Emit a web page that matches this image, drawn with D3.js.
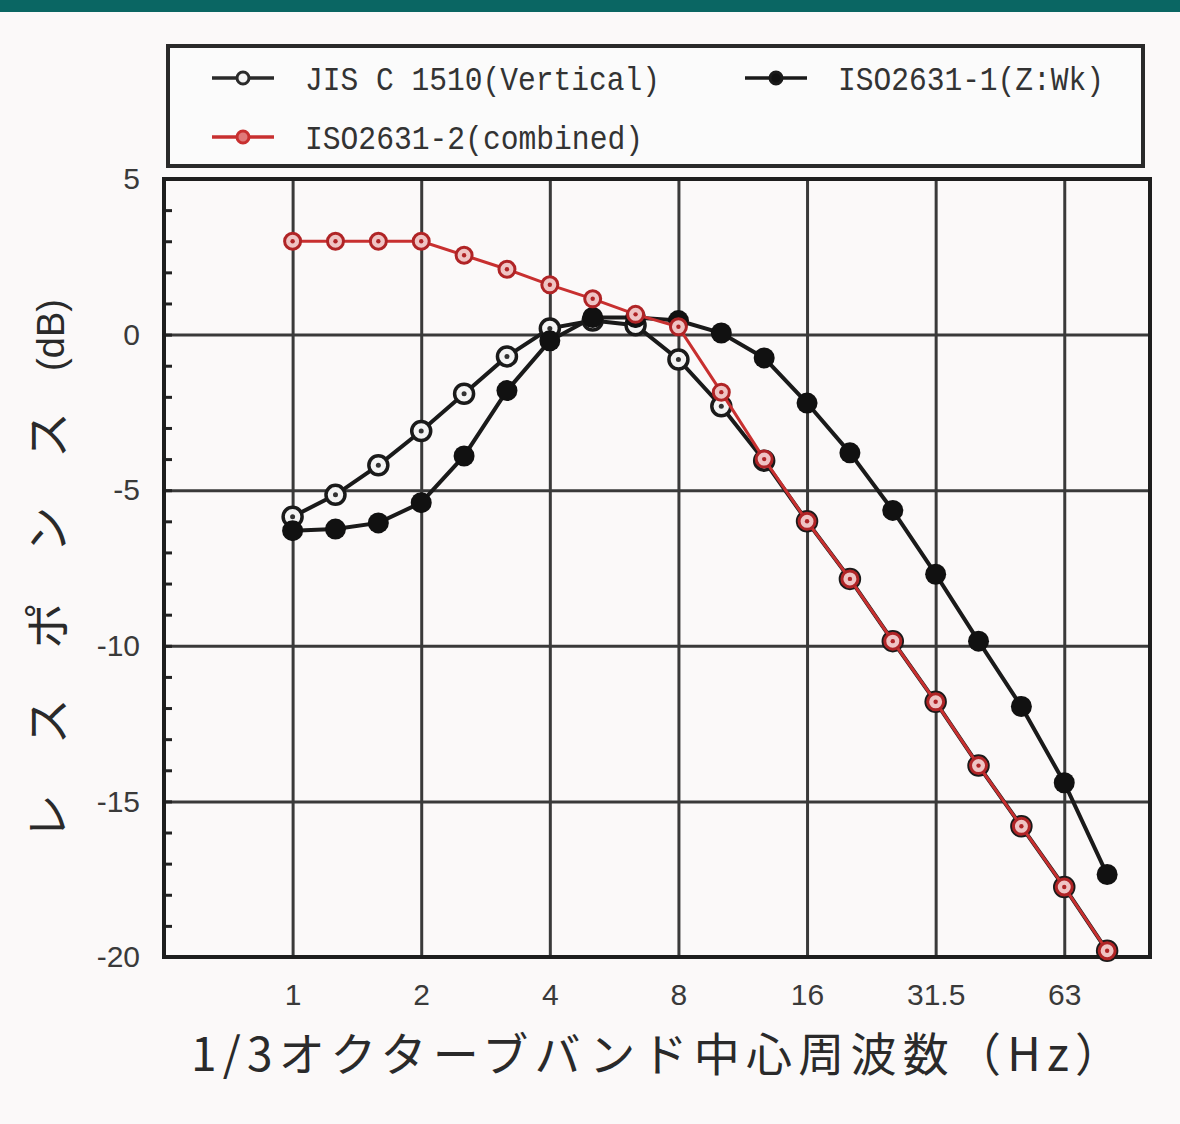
<!DOCTYPE html>
<html>
<head>
<meta charset="utf-8">
<script src="https://cdn.jsdelivr.net/npm/d3@7"></script>
<style>
  html, body { margin: 0; padding: 0; background: #fbf9f9; }
  svg { display: block; }
</style>
</head>
<body>
<svg id="chart"></svg>
<script>
// 1/3 octave band centres (Hz), drawn on an evenly spaced band index
var bands = ["1","1.25","1.6","2","2.5","3.15","4","5","6.3","8","10","12.5","16","20","25","31.5","40","50","63","80"];
var xTickBands  = [0, 3, 6, 9, 12, 15, 18];
var xTickLabels = ["1", "2", "4", "8", "16", "31.5", "63"];
var yTicks      = [5, 0, -5, -10, -15, -20];
var yTickLabels = ["5", "0", "-5", "-10", "-15", "-20"];

// responses (dB)
var jisVertical = [-5.85,-5.15,-4.2,-3.1,-1.9,-0.7,0.2,0.45,0.3,-0.8,-2.3,-4.05,-6.0,-7.85,-9.85,-11.8,-13.85,-15.8,-17.75,-19.8];
var iso1Wk      = [-6.3,-6.25,-6.05,-5.4,-3.9,-1.8,-0.2,0.55,0.55,0.45,0.05,-0.75,-2.2,-3.8,-5.65,-7.7,-9.85,-11.95,-14.4,-17.35];
var iso2Comb    = [3.0,3.0,3.0,3.0,2.55,2.1,1.6,1.15,0.65,0.25,-1.85,-4.0,-6.0,-7.85,-9.85,-11.8,-13.85,-15.8,-17.75,-19.8];

draw();

function draw(){
  var W = 1180, H = 1124;
  var plotL = 164, plotR = 1150, plotT = 179, plotB = 957;

  var svg = d3.select("#chart").attr("width", W).attr("height", H);

  svg.append("rect").attr("x",0).attr("y",0).attr("width",W).attr("height",H).attr("fill","#fbf9f9");
  svg.append("rect").attr("x",0).attr("y",0).attr("width",W).attr("height",12).attr("fill","#0a6663");

  var x = d3.scaleLinear().domain([-3, 20]).range([plotL, plotR]);
  var y = d3.scaleLinear().domain([-20, 5]).range([plotB, plotT]);

  // grid
  svg.append("g")
     .attr("transform","translate(0,"+plotB+")")
     .call(d3.axisBottom(x).tickValues(xTickBands).tickSize(-(plotB-plotT)).tickFormat(""))
     .call(function(g){
       g.select(".domain").remove();
       g.selectAll("line").attr("stroke","#3a3a3a").attr("stroke-width",3);
     });
  svg.append("g")
     .attr("transform","translate("+plotL+",0)")
     .call(d3.axisLeft(y).tickValues([0,-5,-10,-15]).tickSize(-(plotR-plotL)).tickFormat(""))
     .call(function(g){
       g.select(".domain").remove();
       g.selectAll("line").attr("stroke","#3a3a3a").attr("stroke-width",3);
     });

  // minor ticks on the left axis
  svg.append("g")
     .attr("transform","translate("+plotL+",0)")
     .call(d3.axisLeft(y).tickValues(d3.range(-20, 6)).tickSize(-8).tickFormat(""))
     .call(function(g){
       g.select(".domain").remove();
       g.selectAll("line").attr("stroke","#222").attr("stroke-width",3);
     });

  // frame
  svg.append("rect")
     .attr("x",plotL).attr("y",plotT).attr("width",plotR-plotL).attr("height",plotB-plotT)
     .attr("fill","none").attr("stroke","#1e1e1e").attr("stroke-width",4);

  // tick labels
  svg.append("g")
     .attr("transform","translate(0,"+plotB+")")
     .call(d3.axisBottom(x).tickValues(xTickBands).tickSize(0).tickPadding(27)
             .tickFormat(function(d,i){ return xTickLabels[i]; }))
     .call(function(g){
       g.select(".domain").remove();
       g.selectAll("text").attr("font-family","Liberation Sans, Arial, sans-serif")
        .attr("font-size",30).attr("fill","#3a3a3a");
     });
  svg.append("g")
     .attr("transform","translate("+plotL+",0)")
     .call(d3.axisLeft(y).tickValues(yTicks).tickSize(0).tickPadding(24)
             .tickFormat(function(d,i){ return yTickLabels[i]; }))
     .call(function(g){
       g.select(".domain").remove();
       g.selectAll("text").attr("font-family","Liberation Sans, Arial, sans-serif")
        .attr("font-size",30).attr("fill","#3a3a3a");
     });

  // series
  var line = d3.line().x(function(d,i){ return x(i); }).y(function(d){ return y(d); });

  svg.append("path").datum(jisVertical).attr("d",line)
     .attr("fill","none").attr("stroke","#1a1a1a").attr("stroke-width",4);
  svg.append("path").datum(iso1Wk).attr("d",line)
     .attr("fill","none").attr("stroke","#1a1a1a").attr("stroke-width",4);

  svg.append("g").selectAll("circle").data(jisVertical).enter().append("circle")
     .attr("cx",function(d,i){ return x(i); }).attr("cy",function(d){ return y(d); })
     .attr("r",9.5).attr("fill","#f4f4f4").attr("stroke","#1a1a1a").attr("stroke-width",3.5);
  svg.append("g").selectAll("circle").data(jisVertical).enter().append("circle")
     .attr("cx",function(d,i){ return x(i); }).attr("cy",function(d){ return y(d); })
     .attr("r",2.5).attr("fill","#333");

  svg.append("g").selectAll("circle").data(iso1Wk).enter().append("circle")
     .attr("cx",function(d,i){ return x(i); }).attr("cy",function(d){ return y(d); })
     .attr("r",10.5).attr("fill","#111");

  svg.append("path").datum(iso2Comb).attr("d",line)
     .attr("fill","none").attr("stroke","#c83030").attr("stroke-width",3);
  svg.append("g").selectAll("circle").data(iso2Comb).enter().append("circle")
     .attr("cx",function(d,i){ return x(i); }).attr("cy",function(d){ return y(d); })
     .attr("r",8).attr("fill","#efc4c4").attr("stroke","#b02426").attr("stroke-width",3);
  svg.append("g").selectAll("circle").data(iso2Comb).enter().append("circle")
     .attr("cx",function(d,i){ return x(i); }).attr("cy",function(d){ return y(d); })
     .attr("r",2.2).attr("fill","#b02426");

  // legend
  svg.append("rect").attr("x",168).attr("y",46).attr("width",975).attr("height",120)
     .attr("fill","#fbfbfb").attr("stroke","#2a2a2a").attr("stroke-width",4);

  var legendItems = [
    {name:"JIS C 1510(Vertical)", lx:212, y:78,  w:355, stroke:"#2a2a2a", fill:"#f4f4f4"},
    {name:"ISO2631-1(Z:Wk)",      lx:745, y:78,  w:266, stroke:"#1a1a1a", fill:"#111"},
    {name:"ISO2631-2(combined)",  lx:212, y:137, w:338, stroke:"#c83030", fill:"#e07a7a"}
  ];
  var lg = svg.append("g").selectAll("g").data(legendItems).enter().append("g");
  lg.append("line")
    .attr("x1",function(d){ return d.lx; }).attr("x2",function(d){ return d.lx+62; })
    .attr("y1",function(d){ return d.y; }).attr("y2",function(d){ return d.y; })
    .attr("stroke",function(d){ return d.stroke; }).attr("stroke-width",3.5);
  lg.append("circle")
    .attr("cx",function(d){ return d.lx+31; }).attr("cy",function(d){ return d.y; })
    .attr("r",6)
    .attr("fill",function(d){ return d.fill; }).attr("stroke",function(d){ return d.stroke; })
    .attr("stroke-width",3);
  lg.append("text")
    .attr("x",function(d){ return d.lx+93; }).attr("y",function(d){ return d.y+12; })
    .attr("textLength",function(d){ return d.w; }).attr("lengthAdjust","spacingAndGlyphs")
    .attr("font-family","Liberation Mono, DejaVu Sans Mono, monospace")
    .attr("font-size",34).attr("fill","#333")
    .text(function(d){ return d.name; });

  // axis titles
  svg.append("text")
     .attr("transform","translate(64,626) rotate(-90)")
     .attr("text-anchor","middle")
     .attr("textLength",428).attr("lengthAdjust","spacing")
     .attr("font-family","Noto Sans CJK JP, sans-serif")
     .attr("font-size",46).attr("fill","#2a2a2a")
     .text("レスポンス");
  svg.append("text")
     .attr("transform","translate(64,335) rotate(-90)")
     .attr("text-anchor","middle")
     .attr("font-family","Liberation Sans, Arial, sans-serif")
     .attr("font-size",38).attr("fill","#2a2a2a")
     .text("(dB)");

  svg.append("text")
     .attr("x",191).attr("y",1071)
     .attr("textLength",930).attr("lengthAdjust","spacing")
     .attr("font-family","Noto Sans CJK JP, sans-serif")
     .attr("font-size",46).attr("fill","#2a2a2a")
     .text("1/3オクターブバンド中心周波数（Hz）");
}
</script>
</body>
</html>
